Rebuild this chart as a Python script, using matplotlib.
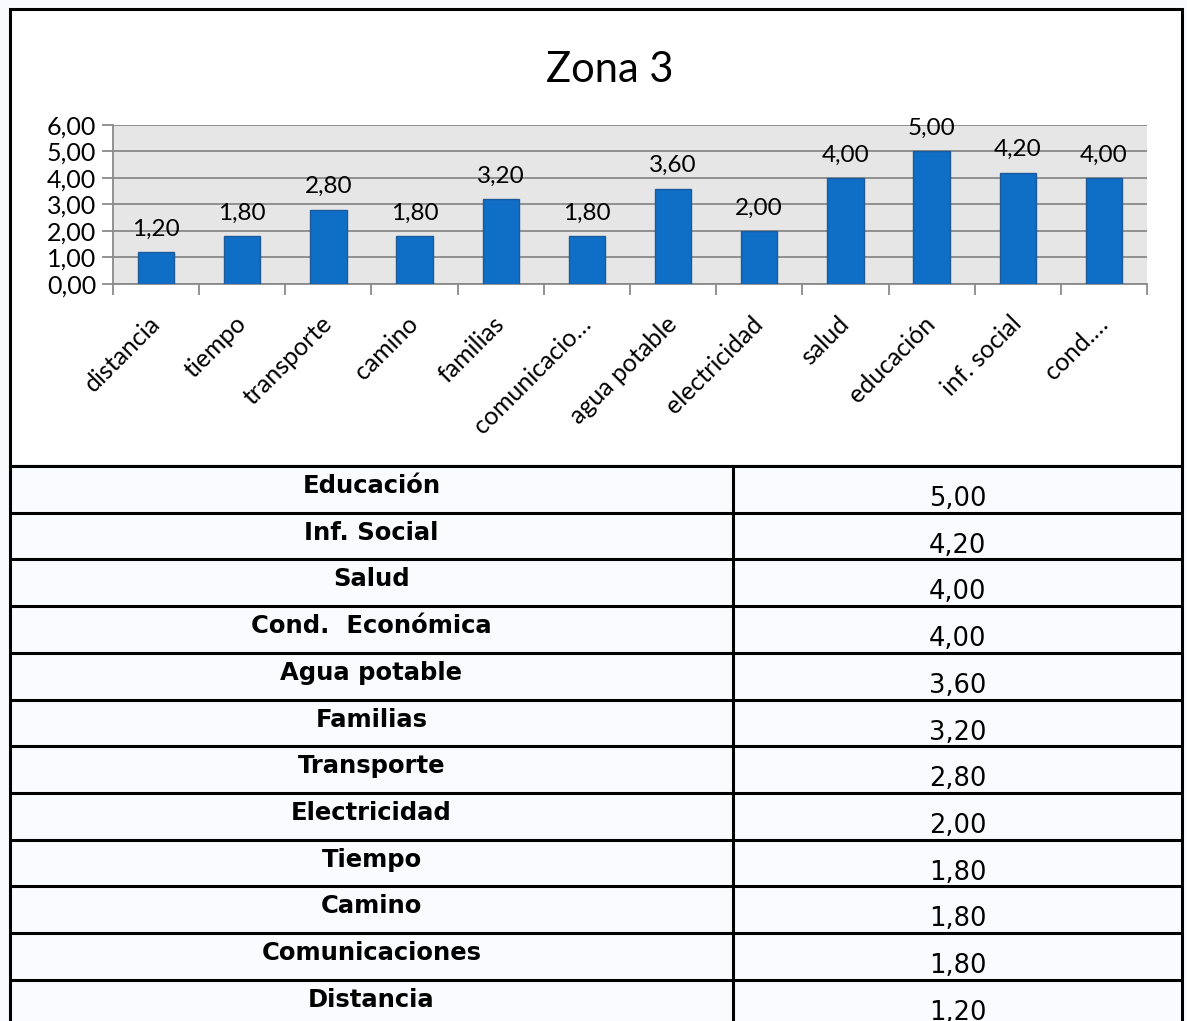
import matplotlib.pyplot as plt
from matplotlib.patches import Rectangle

categories = ["distancia", "tiempo", "transporte", "camino", "familias",
              "comunicacio…", "agua potable", "electricidad", "salud",
              "educación", "inf. social", "cond.…"]
values = [1.20, 1.80, 2.80, 1.80, 3.20, 1.80, 3.60, 2.00, 4.00, 5.00, 4.20, 4.00]
bar_labels = ["1,20", "1,80", "2,80", "1,80", "3,20", "1,80", "3,60", "2,00",
              "4,00", "5,00", "4,20", "4,00"]
y_ticks = [0, 1, 2, 3, 4, 5, 6]
y_tick_labels = ["0,00", "1,00", "2,00", "3,00", "4,00", "5,00", "6,00"]

table_labels = ["Educación", "Inf. Social", "Salud", "Cond.  Económica",
                "Agua potable", "Familias", "Transporte", "Electricidad",
                "Tiempo", "Camino", "Comunicaciones", "Distancia"]
table_values = ["5,00", "4,20", "4,00", "4,00", "3,60", "3,20", "2,80",
                "2,00", "1,80", "1,80", "1,80", "1,20"]

W, H = 1187, 1021
fig = plt.figure(figsize=(W / 100, H / 100), dpi=100, facecolor="#F8FAFE")

# pixel-space overlay for the frame and the table
bg = fig.add_axes([0, 0, 1, 1], zorder=0)
bg.set_xlim(0, W)
bg.set_ylim(H, 0)
bg.axis("off")

left, right = 10, 1182
box_top, table_top = 9, 466
row_h = 46.7
col_split = 733

bg.add_patch(Rectangle((left, box_top), right - left, table_top - box_top,
                       facecolor="white", edgecolor="black", lw=2.2))
bg.add_patch(Rectangle((left, table_top), right - left, H - table_top,
                       facecolor="#F9FBFE", edgecolor="none"))
for i in range(len(table_labels) + 1):
    y = table_top + i * row_h
    bg.plot([left, right], [y, y], color="black", lw=2.2, solid_capstyle="butt")
for x in (left, col_split, right):
    bg.plot([x, x], [table_top, H], color="black", lw=2.2)
for i, (lab, val) in enumerate(zip(table_labels, table_values)):
    top = table_top + i * row_h
    bg.text((left + col_split) / 2, top + 27, lab, ha="center", va="baseline",
            fontsize=17.5, fontweight="bold", family="DejaVu Sans")
    bg.text((col_split + right) / 2, top + 40, val, ha="center", va="baseline",
            fontsize=18.5, family="DejaVu Sans")

bg.text(610, 70, "Zona 3", ha="center", va="center", fontsize=30,
        family="Lato")

# bar chart
pl, pr, pt, pb = 113, 1147, 125, 284
ax = fig.add_axes([pl / W, 1 - pb / H, (pr - pl) / W, (pb - pt) / H], zorder=2)
ax.set_facecolor("#E6E6E6")
x = range(len(categories))
bars = ax.bar(x, values, width=0.42, color="#0F6FC6", edgecolor="#1C5A99",
              lw=1, zorder=3)
for b, lab in zip(bars, bar_labels):
    ax.annotate(lab, (b.get_x() + b.get_width() / 2, b.get_height()),
                xytext=(0, 9), textcoords="offset points", ha="center",
                va="bottom", fontsize=17.5, family="Lato")

ax.set_xlim(-0.5, len(categories) - 0.5)
ax.set_ylim(0, 6)
ax.set_yticks(y_ticks, y_tick_labels, fontsize=18, family="Lato")
ax.yaxis.grid(True, color="#8A8A8A", lw=1.3, zorder=1)
ax.set_axisbelow(True)

ax.set_xticks([i for i in x], categories, rotation=45, ha="right",
              va="center", rotation_mode="anchor", fontsize=18, family="Lato")
ax.tick_params(axis="x", length=0, pad=26)
ax.set_xticks([i - 0.5 for i in range(len(categories) + 1)], minor=True)
ax.tick_params(axis="x", which="minor", length=8, color="#8A8A8A", width=1.3)
ax.tick_params(axis="y", length=8, color="#8A8A8A", width=1.3, pad=4)

for s in ("top", "right"):
    ax.spines[s].set_visible(False)
for s in ("left", "bottom"):
    ax.spines[s].set_color("#8A8A8A")
    ax.spines[s].set_linewidth(1.3)

fig.savefig("out.png", dpi=100, facecolor=fig.get_facecolor())
